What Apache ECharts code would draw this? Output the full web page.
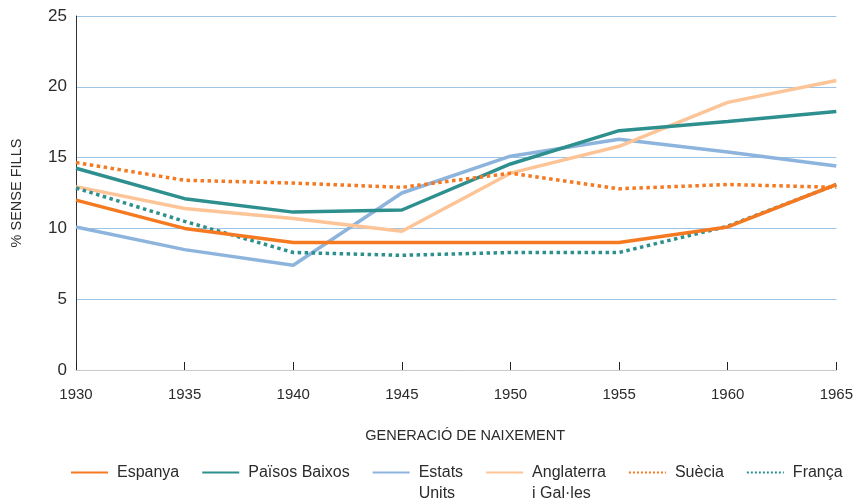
<!DOCTYPE html>
<html>
<head>
<meta charset="utf-8">
<script src="https://cdn.jsdelivr.net/npm/echarts@6/dist/echarts.min.js"></script>
<style>
html,body{margin:0;padding:0;background:#fff;}
#chart{width:856px;height:504px;}
</style>
</head>
<body>
<div id="chart"></div>
<script>
const years = ['1930','1935','1940','1945','1950','1955','1960','1965'];
const espanya = [12.0, 10.0, 9.0, 9.0, 9.0, 9.0, 10.1, 13.1];
const paisosBaixos = [14.25, 12.1, 11.15, 11.3, 14.55, 16.9, 17.55, 18.25];
const estatsUnits = [10.1, 8.5, 7.4, 12.5, 15.1, 16.3, 15.4, 14.4];
const anglaterra = [12.95, 11.4, 10.7, 9.8, 13.9, 15.8, 18.9, 20.45];
const suecia = [14.65, 13.4, 13.2, 12.9, 13.9, 12.8, 13.1, 12.9];
const franca = [12.85, 10.5, 8.3, 8.1, 8.3, 8.3, 10.15, 13.1];
const yTicks = {min: 0, max: 25, step: 5};

const FONT = '"Liberation Sans", Arial, sans-serif';
const TXT = '#2b2b2b';
const ORANGE = '#f47920';
const TEAL = '#2e8f8f';
const BLUE = '#8db4dd';
const PEACH = '#fdc597';

const chart = echarts.init(document.getElementById('chart'), null, {renderer: 'canvas'});

function line(name, data, color, type) {
  return {
    name: name,
    type: 'line',
    data: data,
    symbol: 'circle',
    showSymbol: false,
    smooth: false,
    lineStyle: {color: color, width: 3.5, type: type || 'solid', cap: 'butt'},
    itemStyle: {color: color},
    emphasis: {disabled: true},
    z: 3
  };
}

const legendNames = {
  'Estats Units': '\nEstats\nUnits',
  'Anglaterra i Gal·les': '\nAnglaterra\ni Gal·les'
};

chart.setOption({
  animation: false,
  backgroundColor: '#ffffff',
  textStyle: {fontFamily: FONT},
  grid: {left: 76, right: 18, top: 16, bottom: 134},
  legend: {
    left: 70,
    top: 441,
    padding: 0,
    itemWidth: 37,
    itemHeight: 14,
    itemGap: 22,
    itemStyle: {color: 'rgba(0,0,0,0)', borderWidth: 0, borderColor: 'rgba(0,0,0,0)'},
    formatter: function (n) { return legendNames[n] || n; },
    textStyle: {fontSize: 16, color: TXT, fontFamily: FONT, lineHeight: 21, padding: [0, 0, 0, 4]},
    data: ['Espanya', 'Països Baixos', 'Estats Units', 'Anglaterra i Gal·les', 'Suècia', 'França']
  },
  xAxis: {
    type: 'category',
    data: years,
    boundaryGap: false,
    axisLine: {show: true, lineStyle: {color: '#c9c9c9', width: 1}},
    axisTick: {show: true, inside: true, length: 8, alignWithLabel: true, lineStyle: {color: '#222', width: 1}},
    axisLabel: {color: TXT, fontSize: 15, margin: 17, fontFamily: FONT},
    splitLine: {show: false},
    name: 'GENERACIÓ DE NAIXEMENT',
    nameLocation: 'middle',
    nameGap: 58,
    nameTextStyle: {color: TXT, fontSize: 14.5, fontFamily: FONT, padding: [0, 0, 0, 18]}
  },
  yAxis: {
    type: 'value',
    min: yTicks.min,
    max: yTicks.max,
    interval: yTicks.step,
    axisLine: {show: true, lineStyle: {color: '#333', width: 1}},
    axisTick: {show: false},
    axisLabel: {color: TXT, fontSize: 17, margin: 9, fontFamily: FONT},
    splitLine: {show: true, lineStyle: {color: '#9dc3e6', width: 1}},
    name: '% SENSE FILLS',
    nameLocation: 'middle',
    nameGap: 52,
    nameTextStyle: {color: TXT, fontSize: 14.5, fontFamily: FONT}
  },
  series: [
    line('Estats Units', estatsUnits, BLUE),
    line('Anglaterra i Gal·les', anglaterra, PEACH),
    line('Països Baixos', paisosBaixos, TEAL),
    line('Suècia', suecia, ORANGE, 'dotted'),
    line('França', franca, TEAL, 'dotted'),
    line('Espanya', espanya, ORANGE)
  ]
});
</script>
</body>
</html>
